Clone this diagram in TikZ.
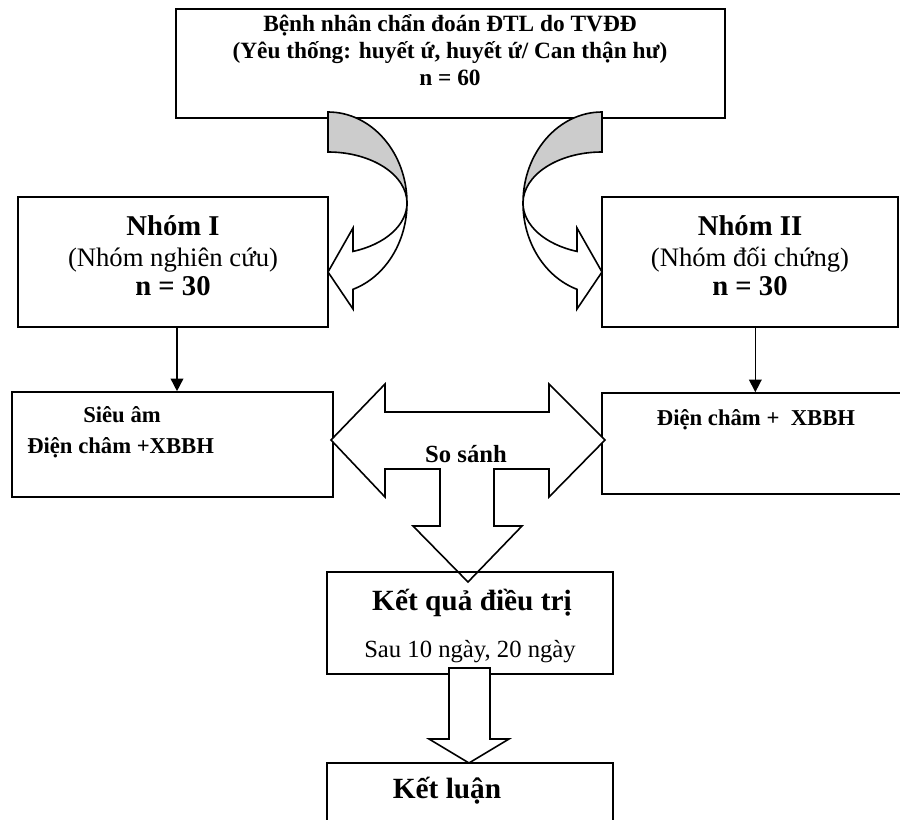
\documentclass[tikz,border=0pt]{standalone}
\usepackage{fontspec}
\setmainfont{Liberation Serif}
\usetikzlibrary{fit,arrows.meta,calc}
\begin{document}
\begin{tikzpicture}[x=0.75pt,y=-0.75pt,
  box/.style={draw, line width=1.2pt, inner sep=0pt, rectangle},
  thinarrow/.style={line width=1.2pt, -{Triangle[length=9.5pt,width=9.5pt]}},
  bigarrow/.style={draw, line width=1.2pt, fill=white, line join=miter},
  shadedpart/.style={draw, line width=1.2pt, fill=black!20},
  txt/.style={anchor=base, inner sep=0pt},
  fhead/.style={font=\fontsize{17.5}{20}\selectfont\bfseries},
  ftitle/.style={font=\fontsize{21.5}{24}\selectfont\bfseries},
  fsub/.style={font=\fontsize{20}{24}\selectfont},
  ftreat/.style={font=\fontsize{17}{20}\selectfont\bfseries},
  fcmp/.style={font=\fontsize{18.5}{22}\selectfont\bfseries},
  fres/.style={font=\fontsize{22}{26}\selectfont\bfseries},
  fdays/.style={font=\fontsize{18.5}{22}\selectfont},
]
\useasboundingbox (0,0) rectangle (900,820);

% boxes
\node[box, fit={(176,9) (725,118)}] (top) {};
\node[box, fit={(18,197) (328,327)}] (n1) {};
\node[box, fit={(602,197) (898,327)}] (n2) {};
\node[box, fit={(12,392) (333,497)}] (s1) {};
\node[box, fit={(602,393) (906,494)}] (s2) {};

% texts of top box
\node[txt, fhead] (t1) at (450,32) {Bệnh nhân chẩn đoán ĐTL do TVĐĐ};
\node[txt, fhead] (t2) at (450,59) {(Yêu thống: huyết ứ, huyết ứ/ Can thận hư)};
\node[txt, fhead] (t3) at (450,86) {n = 60};

% group boxes texts
\node[txt, ftitle] (g1a) at (173,235) {Nhóm I};
\node[txt, fsub]   (g1b) at (173,267) {(Nhóm nghiên cứu)};
\node[txt, ftitle] (g1c) at (173,296) {n = 30};
\node[txt, ftitle] (g2a) at (750,235) {Nhóm II};
\node[txt, fsub]   (g2b) at (750,267) {(Nhóm đối chứng)};
\node[txt, ftitle] (g2c) at (750,296) {n = 30};

% treatment texts
\node[txt, ftreat] (s1a) at (122,422) {Siêu âm};
\node[txt, ftreat, anchor=base west] (s1b) at (27,453) {Điện châm +XBBH};
\node[txt, ftreat] (s2a) at (756,425) {Điện châm + \ XBBH};

% thin arrows
\draw[thinarrow] ([xshift=3pt]n1.south) -- ([xshift=3pt]n1.south |- s1.north);
\draw[thinarrow] ([xshift=4pt]n2.south) -- ([xshift=4pt]n2.south |- s2.north);

% left curved arrow
\filldraw[shadedpart] (328,112)
  arc[start angle=-90, end angle=0, x radius=79, y radius=91]
  arc[start angle=0, end angle=-90, x radius=79, y radius=51] -- cycle;
\filldraw[bigarrow] (407,203)
  arc[start angle=0, end angle=71.55, x radius=79, y radius=91]
  -- (353,309) -- (328,272) -- (353,228) -- (353,251.4)
  arc[start angle=71.55, end angle=0, x radius=79, y radius=51] -- cycle;

% right curved arrow
\filldraw[shadedpart] (602,112)
  arc[start angle=270, end angle=180, x radius=79, y radius=91]
  arc[start angle=180, end angle=270, x radius=79, y radius=51] -- cycle;
\filldraw[bigarrow] (523,203)
  arc[start angle=180, end angle=108.45, x radius=79, y radius=91]
  -- (577,309) -- (602,272) -- (577,228) -- (577,251.4)
  arc[start angle=108.45, end angle=180, x radius=79, y radius=51] -- cycle;

% compare arrow (left-right-down)
\draw[bigarrow] (331,440) -- (385,384) -- (385,412) -- (549,412) -- (549,384)
  -- (605,440) -- (549,497) -- (549,469) -- (494,469) -- (494,526) -- (522,526)
  -- (468,582) -- (413,526) -- (440,526) -- (440,469) -- (385,469) -- (385,497) -- cycle;
\node[txt, fcmp] (cmp) at (466,462) {So sánh};

% result box
\node[box, fit={(327,572) (613,674)}] (kq) {};
\node[txt, fres]  (kqa) at (472,610) {Kết quả điều trị};
\node[txt, fdays] (kqb) at (470,657) {Sau 10 ngày, 20 ngày};

% down arrow
\draw[bigarrow] (449,668) -- (490,668) -- (490,739) -- (509,739) -- (469,763)
  -- (429,739) -- (449,739) -- cycle;

% conclusion box
\node[box, fit={(327,763) (613,830)}] (kl) {};
\node[txt, fres] (kla) at (447,798) {Kết luận};
\end{tikzpicture}
\end{document}
